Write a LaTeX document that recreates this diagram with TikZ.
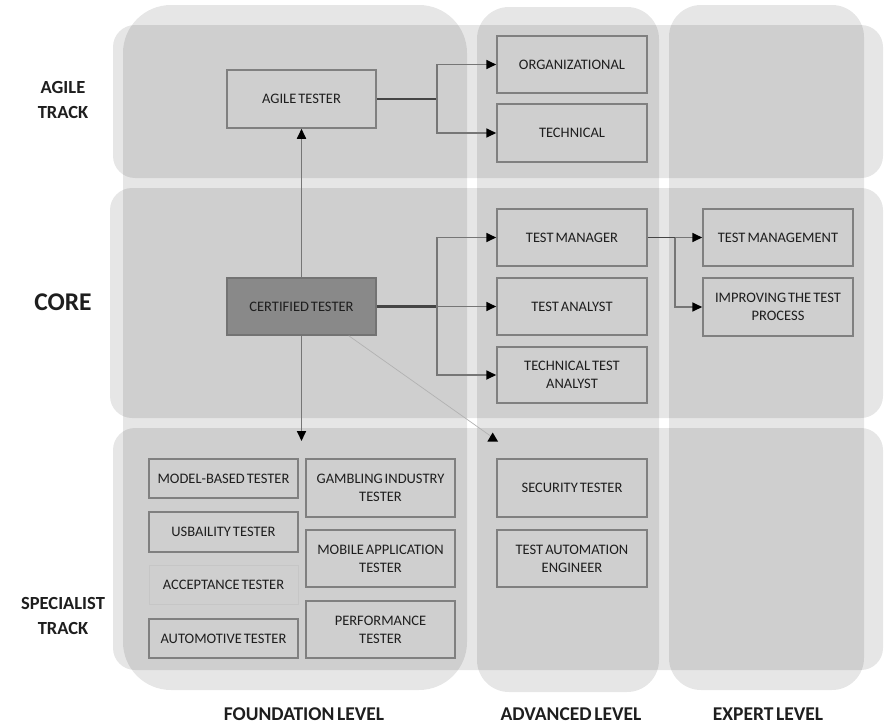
\documentclass[tikz,border=0pt]{standalone}
\usepackage{fontspec}
\setmainfont{Carlito}
\newfontfamily\boxfont[WordSpace=0.55]{Carlito}
\newfontfamily\headfont[WordSpace=0.6]{Carlito}
\usetikzlibrary{arrows.meta,calc}
\definecolor{boxline}{HTML}{808080}
\definecolor{connline}{HTML}{767676}
\definecolor{mainline}{HTML}{454545}
\definecolor{txt}{HTML}{1E1E1E}
\definecolor{certfill}{HTML}{898989}
\tikzset{
  band/.style={fill=black, fill opacity=0.098, draw=none},
  box/.style={draw=boxline, line width=1.5pt, minimum width=150pt, minimum height=57pt,
    align=center, inner sep=2pt, text=txt, font=\boxfont\fontsize{14.5}{18}\selectfont},
  smallbox/.style={box, minimum width=149pt, minimum height=39pt},
  conn/.style={draw=connline, line width=1.7pt},
  mainconn/.style={draw=mainline, line width=2.2pt},
  arr/.style={conn, -{Triangle[length=10pt,width=9pt,color=black]}},
  lbl/.style={text=txt, align=center, font=\headfont\bfseries\fontsize{18.5}{25}\selectfont},
}
\begin{document}
\begin{tikzpicture}[x=1pt,y=-1pt]
\useasboundingbox (0,0) rectangle (884,728);
\fill[white] (0,0) rectangle (884,728);

% track bands (rows)
\fill[band, rounded corners=22pt] (113,25) rectangle (883,178);
\fill[band, rounded corners=22pt] (110,188) rectangle (883,418);
\fill[band, rounded corners=22pt] (113,428) rectangle (883,670);
% level bands (columns)
\fill[band, rounded corners=48pt] (123,5) rectangle (467,690);
\fill[band, rounded corners=32pt] (477,7) rectangle (659,692);
\fill[band, rounded corners=32pt] (669,5) rectangle (864,690);

% row and column headings
\node[lbl] (hagile) at (63,100) {AGILE\\TRACK};
\node[lbl, font=\headfont\bfseries\fontsize{25.5}{30}\selectfont] (hcore) at (63,302) {CORE};
\node[lbl] (hspec) at (63,616) {SPECIALIST\\TRACK};
\node[lbl, font=\headfont\bfseries\fontsize{19.5}{25}\selectfont] (hfound) at (304,714) {FOUNDATION LEVEL};
\node[lbl, font=\headfont\bfseries\fontsize{19.5}{25}\selectfont] (hadv) at (571,714) {ADVANCED LEVEL};
\node[lbl, font=\headfont\bfseries\fontsize{19.5}{25}\selectfont] (hexp) at (768,714) {EXPERT LEVEL};

% agile track
\node[box, minimum width=149pt, minimum height=58pt] (agile) at (301.5,99) {AGILE TESTER};
\node[box] (org) at (572,64.5) {ORGANIZATIONAL};
\node[box, minimum height=58pt] (tech) at (572,133) {TECHNICAL};

% core
\node[box, minimum width=149pt, fill=certfill, draw=boxline!90!black] (cert) at (301.5,306.5) {CERTIFIED TESTER};
\node[box] (tm) at (572,237.5) {TEST MANAGER};
\node[box] (ta) at (572,306.5) {TEST ANALYST};
\node[box, minimum height=56pt] (tta) at (572,375) {TECHNICAL TEST\\ANALYST};
\node[box] (tmg) at (778,237.5) {TEST MANAGEMENT};
\node[box, minimum height=58pt] (itp) at (778,307) {IMPROVING THE TEST\\PROCESS};

% specialist track
\node[smallbox] (mbt) at (223.5,478.5) {MODEL-BASED TESTER};
\node[smallbox, minimum height=40pt] (usa) at (223.5,532) {USBAILITY TESTER};
\node[smallbox, draw=boxline!45!white, line width=0.9pt] (acc) at (223.5,584.5) {ACCEPTANCE TESTER};
\node[smallbox] (auto) at (223.5,638.5) {AUTOMOTIVE TESTER};
\node[box, minimum width=149pt, minimum height=58pt] (gamb) at (380.5,488) {GAMBLING INDUSTRY\\TESTER};
\node[box, minimum width=149pt] (mob) at (380.5,558.5) {MOBILE APPLICATION\\TESTER};
\node[box, minimum width=149pt] (perf) at (380.5,629.5) {PERFORMANCE\\TESTER};
\node[box, minimum height=58pt] (sec) at (572,488) {SECURITY TESTER};
\node[box] (tae) at (572,558.5) {TEST AUTOMATION\\ENGINEER};

% connectors
\coordinate (asplit) at (437,99);
\coordinate (csplit) at (437,306.5);
\coordinate (msplit) at (675,237.5);
\coordinate (down) at (301.5,441);
\coordinate (diag) at (492,437);

\draw[mainconn] (agile.east) -- (asplit);
\draw[arr] (asplit) |- (org.west);
\draw[arr] (asplit) |- (tech.west);

\draw[mainconn] (cert.east) -- (csplit);
\draw[arr] (csplit) |- (tm.west);
\draw[arr] (csplit) -- (ta.west);
\draw[arr] (csplit) |- (tta.west);

\draw[mainconn, line width=1.7pt] (tm.east) -- (msplit);
\draw[arr] (msplit) -- (tmg.west);
\draw[arr] (msplit) |- (itp.west);

\draw[arr] (cert.north) -- (agile.south);
\draw[arr] (cert.south) -- (down);

\draw[draw=black!30, line width=0.7pt] ([xshift=-28pt]cert.south east) -- (diag);
\fill[black] ([shift={(0.7,-4.5)}]diag) -- ([shift={(6,4.5)}]diag) -- ([shift={(-4.6,4.5)}]diag) -- cycle;
\end{tikzpicture}
\end{document}
